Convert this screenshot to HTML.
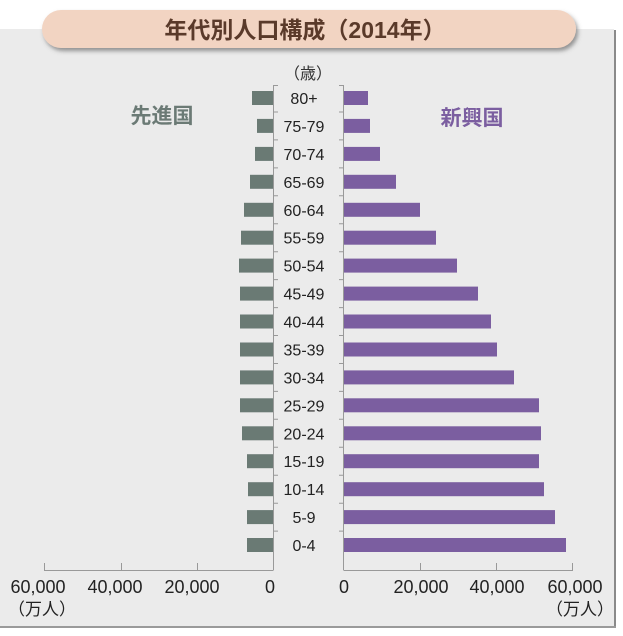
<!DOCTYPE html>
<html><head><meta charset="utf-8"><style>
body{margin:0;width:623px;height:636px;background:#fff;overflow:hidden}
svg{display:block}
text{font-family:"Liberation Sans","Noto Sans CJK JP",sans-serif}
</style></head><body>
<svg width="623" height="636" viewBox="0 0 623 636">
<defs><filter id="sh" x="-5%" y="-30%" width="110%" height="160%"><feDropShadow dx="2" dy="3" stdDeviation="2" flood-color="#555" flood-opacity="0.6"/></filter></defs>
<rect x="0" y="29" width="614" height="598" fill="#ebebeb"/>
<rect x="614" y="30" width="2" height="598" fill="#8a8a8a"/>
<rect x="0" y="626" width="616" height="2" fill="#9a9a9a"/>
<rect x="42" y="10" width="534" height="38" rx="19" fill="#f2d4c2" filter="url(#sh)"/>
<text x="305" y="38" text-anchor="middle" font-size="23" font-weight="bold" fill="#5a3a2a">年代別人口構成（2014年）</text>
<text x="162" y="123" text-anchor="middle" font-size="21" font-weight="bold" fill="#6b7a75">先進国</text>
<text x="472" y="125" text-anchor="middle" font-size="21" font-weight="bold" fill="#7b5ea0">新興国</text>
<text x="308" y="79" text-anchor="middle" font-size="16" fill="#333">（歳）</text>
<g fill="#6a7a74">
<rect x="252" y="91" width="21" height="14"/>
<rect x="257" y="118.9" width="16" height="14"/>
<rect x="255" y="146.9" width="18" height="14"/>
<rect x="250" y="174.8" width="23" height="14"/>
<rect x="244" y="202.8" width="29" height="14"/>
<rect x="241" y="230.7" width="32" height="14"/>
<rect x="239" y="258.6" width="34" height="14"/>
<rect x="240" y="286.6" width="33" height="14"/>
<rect x="240" y="314.5" width="33" height="14"/>
<rect x="240" y="342.5" width="33" height="14"/>
<rect x="240" y="370.4" width="33" height="14"/>
<rect x="240" y="398.3" width="33" height="14"/>
<rect x="242" y="426.3" width="31" height="14"/>
<rect x="247" y="454.2" width="26" height="14"/>
<rect x="248" y="482.2" width="25" height="14"/>
<rect x="247" y="510.1" width="26" height="14"/>
<rect x="247" y="538" width="26" height="14"/>
</g>
<g fill="#7b5ea0">
<rect x="344" y="91" width="24" height="14"/>
<rect x="344" y="118.9" width="26" height="14"/>
<rect x="344" y="146.9" width="36" height="14"/>
<rect x="344" y="174.8" width="52" height="14"/>
<rect x="344" y="202.8" width="76" height="14"/>
<rect x="344" y="230.7" width="92" height="14"/>
<rect x="344" y="258.6" width="113" height="14"/>
<rect x="344" y="286.6" width="134" height="14"/>
<rect x="344" y="314.5" width="147" height="14"/>
<rect x="344" y="342.5" width="153" height="14"/>
<rect x="344" y="370.4" width="170" height="14"/>
<rect x="344" y="398.3" width="195" height="14"/>
<rect x="344" y="426.3" width="197" height="14"/>
<rect x="344" y="454.2" width="195" height="14"/>
<rect x="344" y="482.2" width="200" height="14"/>
<rect x="344" y="510.1" width="211" height="14"/>
<rect x="344" y="538" width="222" height="14"/>
</g>
<g font-size="16" fill="#222" text-anchor="middle">
<text x="304" y="104">80+</text>
<text x="304" y="131.9">75-79</text>
<text x="304" y="159.9">70-74</text>
<text x="304" y="187.8">65-69</text>
<text x="304" y="215.8">60-64</text>
<text x="304" y="243.7">55-59</text>
<text x="304" y="271.6">50-54</text>
<text x="304" y="299.6">45-49</text>
<text x="304" y="327.5">40-44</text>
<text x="304" y="355.5">35-39</text>
<text x="304" y="383.4">30-34</text>
<text x="304" y="411.3">25-29</text>
<text x="304" y="439.3">20-24</text>
<text x="304" y="467.2">15-19</text>
<text x="304" y="495.2">10-14</text>
<text x="304" y="523.1">5-9</text>
<text x="304" y="551">0-4</text>
</g>
<g stroke="#999" stroke-width="1" fill="none">
<line x1="273.5" y1="85" x2="273.5" y2="570"/>
<line x1="343.5" y1="85" x2="343.5" y2="570"/>
<line x1="44" y1="570.5" x2="273.5" y2="570.5"/>
<line x1="343.5" y1="570.5" x2="573" y2="570.5"/>
<line x1="44.5" y1="570" x2="44.5" y2="563"/><line x1="121.5" y1="570" x2="121.5" y2="563"/><line x1="197.5" y1="570" x2="197.5" y2="563"/>
<line x1="420.5" y1="570" x2="420.5" y2="563"/><line x1="496.5" y1="570" x2="496.5" y2="563"/><line x1="572.5" y1="570" x2="572.5" y2="563"/>
<path d="M273.5 85.5h4.5M273.5 112h4.5M273.5 139.9h4.5M273.5 167.9h4.5M273.5 195.8h4.5M273.5 223.8h4.5M273.5 251.7h4.5M273.5 279.6h4.5M273.5 307.6h4.5M273.5 335.5h4.5M273.5 363.5h4.5M273.5 391.4h4.5M273.5 419.3h4.5M273.5 447.3h4.5M273.5 475.2h4.5M273.5 503.2h4.5M273.5 531.1h4.5"/>
<path d="M339 85.5h4.5M339 112h4.5M339 139.9h4.5M339 167.9h4.5M339 195.8h4.5M339 223.8h4.5M339 251.7h4.5M339 279.6h4.5M339 307.6h4.5M339 335.5h4.5M339 363.5h4.5M339 391.4h4.5M339 419.3h4.5M339 447.3h4.5M339 475.2h4.5M339 503.2h4.5M339 531.1h4.5"/>
</g>
<g font-size="18" fill="#222" text-anchor="middle">
<text x="38" y="593">60,000</text><text x="115" y="593">40,000</text><text x="192" y="593">20,000</text><text x="270" y="593">0</text>
<text x="344" y="593">0</text><text x="421" y="593">20,000</text><text x="497" y="593">40,000</text><text x="575" y="593">60,000</text>
</g>
<text x="8" y="615" font-size="17" fill="#222">（万人）</text>
<text x="546" y="615" font-size="17" fill="#222">（万人）</text>
</svg>
</body></html>
